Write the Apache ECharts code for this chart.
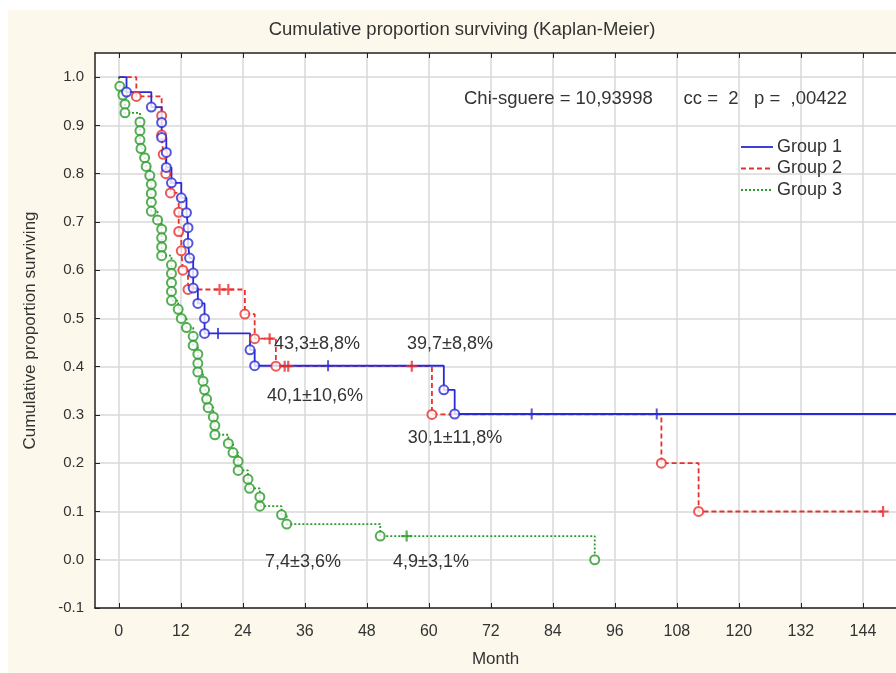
<!DOCTYPE html>
<html><head><meta charset="utf-8">
<script src="https://cdn.jsdelivr.net/npm/echarts@6/dist/echarts.min.js"></script>
<style>html,body{margin:0;padding:0;background:#fff}#c{width:896px;height:673px}</style>
</head><body><div id="c"></div>
<script>
// ---- tick labels ----
const xTicks = [0, 12, 24, 36, 48, 60, 72, 84, 96, 108, 120, 132, 144];
const yTicks = [-0.1, 0, 0.1, 0.2, 0.3, 0.4, 0.5, 0.6, 0.7, 0.8, 0.9, 1.0];
const groupNames = ['Group 1', 'Group 2', 'Group 3'];

// ---- Group 1 (events: month, survival) ----
const g1Times = [1.5, 6.3, 8.3, 8.3, 9.2, 9.2, 10.2, 12.1, 13.1, 13.4, 13.4, 13.7, 14.4, 14.4, 15.3, 16.6, 16.6, 25.4, 26.3, 62.9, 65.0];
const g1Surv  = [0.969, 0.938, 0.906, 0.875, 0.844, 0.813, 0.781, 0.750, 0.719, 0.688, 0.656, 0.625, 0.594, 0.563, 0.531, 0.500, 0.469, 0.435, 0.402, 0.352, 0.302];
const g1CensorTimes = [19.2, 40.5, 79.9, 104.1];
const g1CensorSurv  = [0.469, 0.402, 0.302, 0.302];
const g1LastTime = 152;

// ---- Group 2 ----
const g2Times = [3.4, 8.3, 8.3, 8.6, 9.1, 10.0, 11.6, 11.6, 12.1, 12.4, 13.4, 24.4, 26.3, 30.4, 60.6, 105.0, 112.2];
const g2Surv  = [0.960, 0.920, 0.880, 0.840, 0.800, 0.760, 0.720, 0.680, 0.640, 0.600, 0.560, 0.509, 0.458, 0.401, 0.301, 0.200, 0.100];
const g2CensorTimes = [19.5, 21.2, 29.2, 32.1, 32.8, 56.7, 147.9];
const g2CensorSurv  = [0.560, 0.560, 0.458, 0.401, 0.401, 0.401, 0.100];
const g2LastTime = 147.9;

// ---- Group 3 ----
const g3Times = [0.2, 0.8, 1.2, 1.2, 4.1, 4.1, 4.1, 4.3, 5.0, 5.3, 6.0, 6.3, 6.3, 6.3, 6.3, 7.5, 8.3, 8.3, 8.3, 8.3,
                 10.2, 10.2, 10.2, 10.2, 10.2, 11.5, 12.1, 13.1, 14.4, 14.4, 15.3, 15.3, 15.3, 16.3, 16.6, 17.0, 17.3,
                 18.3, 18.6, 18.6, 21.2, 22.1, 23.1, 23.1, 25.0, 25.3, 27.3, 27.3, 31.5, 32.5, 50.6, 92.1];
const g3Surv  = [0.981, 0.963, 0.944, 0.926, 0.907, 0.889, 0.870, 0.852, 0.833, 0.815, 0.796, 0.778, 0.759, 0.741, 0.722, 0.704, 0.685, 0.667, 0.648, 0.630,
                 0.611, 0.593, 0.574, 0.556, 0.537, 0.519, 0.500, 0.481, 0.463, 0.444, 0.426, 0.407, 0.389, 0.370, 0.352, 0.333, 0.315,
                 0.296, 0.278, 0.259, 0.241, 0.222, 0.204, 0.185, 0.167, 0.148, 0.130, 0.111, 0.093, 0.074, 0.049, 0.000];
const g3CensorTimes = [55.7];
const g3CensorSurv  = [0.049];
const g3LastTime = 92.1;

// ---- annotation texts ----
const titleText = 'Cumulative proportion surviving (Kaplan-Meier)';
const statText = 'Chi-sguere = 10,93998      cc =  2   p =  ,00422';
const noteTexts = ['43,3±8,8%', '39,7±8,8%', '40,1±10,6%', '30,1±11,8%', '7,4±3,6%', '4,9±3,1%'];

const FONT = '"Liberation Sans", Arial, sans-serif';
const colors = ['#2a2ad6', '#e8302c', '#2a9a2a'];
const dashes = ['solid', [5, 3], [2, 2]];
const canvasDashes = [null, [5, 3], [2, 2]];
const censorSymbols = ['rect', 'path://M0,4 L10,4 L10,6 L0,6 Z M4,0 L6,0 L6,10 L4,10 Z', 'path://M0,4 L10,4 L10,6 L0,6 Z M4,0 L6,0 L6,10 L4,10 Z'];
const censorSizes = [[2, 11], 11, 11];

function kmPath(times, surv, last) {
  const pts = [[0, 1]];
  times.forEach((t, i) => pts.push([t, surv[i]]));
  pts.push([last, surv[surv.length - 1]]);
  return pts;
}
const groups = [
  [g1Times, g1Surv, g1CensorTimes, g1CensorSurv, g1LastTime],
  [g2Times, g2Surv, g2CensorTimes, g2CensorSurv, g2LastTime],
  [g3Times, g3Surv, g3CensorTimes, g3CensorSurv, g3LastTime]
];

const series = [];
groups.forEach((g, k) => {
  series.push({
    name: groupNames[k], type: 'line', step: 'end', symbol: 'none',
    data: kmPath(g[0], g[1], g[4]),
    lineStyle: { color: colors[k], width: 1.8, type: dashes[k] },
    itemStyle: { color: colors[k] }, z: 3 - k + 2, animation: false
  });
  series.push({
    name: groupNames[k] + ' events', type: 'scatter', symbol: 'emptyCircle', symbolSize: 9,
    data: g[0].map((t, i) => [t, g[1][i]]),
    itemStyle: { color: colors[k], borderColor: colors[k], borderWidth: 2.2 }, z: 6 - k, animation: false
  });
  series.push({
    name: groupNames[k] + ' censored', type: 'scatter', symbol: censorSymbols[k], symbolSize: censorSizes[k],
    data: g[2].map((t, i) => [t, g[3][i]]),
    itemStyle: { color: colors[k] }, z: 6 - k, animation: false
  });
});

const notePos = [[317, 344], [450, 344], [315, 396], [455, 438], [303, 562], [431, 562]];
const legendY = [147, 168.5, 190];
const graphics = [
  { type: 'rect', shape: { x: 0, y: 0, width: 896, height: 10 }, style: { fill: '#fff' }, silent: true },
  { type: 'rect', shape: { x: 0, y: 0, width: 8, height: 673 }, style: { fill: '#fff' }, silent: true },
  { type: 'text', style: { text: titleText, x: 462, y: 30, align: 'center', verticalAlign: 'middle', fontSize: 18.5, fontFamily: FONT, fill: '#333' } },
  { type: 'text', style: { text: statText, x: 464, y: 99, align: 'left', verticalAlign: 'middle', fontSize: 18.5, fontFamily: FONT, fill: '#333' }, z: 10 }
];
noteTexts.forEach((t, i) => graphics.push({ type: 'text', z: 10,
  style: { text: t, x: notePos[i][0], y: notePos[i][1], align: 'center', verticalAlign: 'middle', fontSize: 18, fontFamily: FONT, fill: '#333' } }));
groupNames.forEach((n, k) => {
  graphics.push({ type: 'line', z: 10, shape: { x1: 741, y1: legendY[k], x2: 773, y2: legendY[k] },
    style: { stroke: colors[k], lineWidth: 1.8, lineDash: canvasDashes[k] } });
  graphics.push({ type: 'text', z: 10, style: { text: n, x: 777, y: legendY[k], align: 'left', verticalAlign: 'middle', fontSize: 18, fontFamily: FONT, fill: '#333' } });
});

const chart = echarts.init(document.getElementById('c'), null, { renderer: 'canvas' });
chart.setOption({
  animation: false,
  backgroundColor: '#fcf8ec',
  grid: { left: 95, right: 0, top: 53, bottom: 62.5, show: true, backgroundColor: '#fff', borderWidth: 0 },
  xAxis: [{
    type: 'value', min: -4.6, max: 150.4, position: 'bottom',
    axisLine: { show: true, onZero: false, lineStyle: { color: '#222', width: 1.5 } },
    axisTick: { show: true, inside: true, length: 5, customValues: xTicks, lineStyle: { color: '#222' } },
    axisLabel: { customValues: xTicks, margin: 16, fontSize: 16, color: '#333', fontFamily: FONT },
    splitLine: { show: true, lineStyle: { color: '#d9d9d9', width: 1.5 } },
    name: 'Month', nameLocation: 'middle', nameGap: 43, nameTextStyle: { fontSize: 17, color: '#333', fontFamily: FONT }
  }, {
    type: 'value', min: -4.6, max: 150.4, position: 'top',
    axisLine: { show: true, onZero: false, lineStyle: { color: '#222', width: 1.5 } },
    axisTick: { show: true, inside: true, length: 5, customValues: xTicks, lineStyle: { color: '#222' } },
    axisLabel: { show: false }, splitLine: { show: false }
  }],
  yAxis: {
    type: 'value', min: -0.1, max: 1.05,
    axisLine: { show: true, onZero: false, lineStyle: { color: '#222', width: 1.5 } },
    axisTick: { show: true, inside: true, length: 5, customValues: yTicks, lineStyle: { color: '#222' } },
    axisLabel: { customValues: yTicks, margin: 11, fontSize: 15, color: '#333', fontFamily: FONT, formatter: v => v.toFixed(1) },
    splitLine: { show: true, lineStyle: { color: '#d9d9d9', width: 1.5 } },
    name: 'Cumulative proportion surviving', nameLocation: 'middle', nameGap: 56,
    nameTextStyle: { fontSize: 17, color: '#333', fontFamily: FONT }
  },
  graphic: graphics,
  series: series
});
</script></body></html>
